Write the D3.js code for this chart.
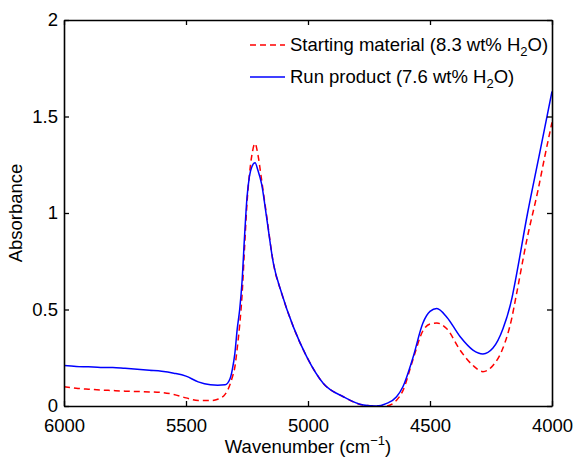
<!DOCTYPE html>
<html>
<head>
<meta charset="utf-8">
<script src="https://cdn.jsdelivr.net/npm/d3@7"></script>
<style>
  body { margin: 0; background: #fff; }
  svg text { font-family: "Liberation Sans", Arial, sans-serif; fill: #000; }
</style>
</head>
<body>
<div id="chart"></div>
<script>
// wavenumbers (cm-1) shared by both spectra
const wavenumbers = [6000, 5950, 5900, 5850, 5800, 5750, 5700, 5650, 5600, 5550, 5500, 5450, 5400, 5370, 5340, 5320, 5310, 5300, 5290, 5280, 5270, 5260, 5250, 5240, 5230, 5217, 5205, 5190, 5170, 5142, 5108, 5060, 5005, 4937, 4855, 4773, 4720, 4680, 4637, 4611, 4570, 4529, 4500, 4472, 4431, 4377, 4324, 4283, 4242, 4201, 4164, 4150, 4100, 4057, 4030, 4000];

const runProduct = [0.21, 0.205, 0.203, 0.2, 0.2, 0.195, 0.19, 0.185, 0.18, 0.17, 0.155, 0.125, 0.11, 0.108, 0.11, 0.14, 0.19, 0.27, 0.4, 0.5, 0.65, 0.88, 1.08, 1.19, 1.24, 1.26, 1.22, 1.15, 0.98, 0.74, 0.584, 0.41, 0.255, 0.117, 0.048, 0.005, 0.0, 0.012, 0.048, 0.1, 0.25, 0.43, 0.49, 0.505, 0.46, 0.36, 0.29, 0.27, 0.3, 0.4, 0.56, 0.65, 1.0, 1.27, 1.44, 1.63];

const startingMaterial = [0.1, 0.092, 0.087, 0.083, 0.08, 0.077, 0.075, 0.073, 0.07, 0.06, 0.042, 0.028, 0.028, 0.035, 0.06, 0.11, 0.15, 0.2, 0.3, 0.42, 0.58, 0.82, 1.05, 1.2, 1.3, 1.36, 1.3, 1.17, 0.99, 0.74, 0.584, 0.41, 0.255, 0.117, 0.048, 0.005, 0.0, 0.0, 0.03, 0.08, 0.24, 0.39, 0.425, 0.43, 0.4, 0.29, 0.21, 0.178, 0.21, 0.3, 0.46, 0.55, 0.88, 1.12, 1.29, 1.47];

const xTicks = [6000, 5500, 5000, 4500, 4000];
const yTicks = [0, 0.5, 1, 1.5, 2];

const width = 575, height = 459;
const margin = { top: 20, right: 23, bottom: 53, left: 64 };

const svg = d3.select('#chart').append('svg')
    .attr('width', width)
    .attr('height', height);

const x = d3.scaleLinear().domain([6000, 4000]).range([margin.left, width - margin.right]);
const y = d3.scaleLinear().domain([0, 2]).range([height - margin.bottom, margin.top]);

// series
const series = [
    { label: 'Starting material (8.3 wt% H', values: startingMaterial, color: '#ff0000', dash: '6,4' },
    { label: 'Run product (7.6 wt% H', values: runProduct, color: '#0000ff', dash: null }
];

const line = d3.line()
    .x(d => x(d[0]))
    .y(d => y(d[1]))
    .curve(d3.curveMonotoneX);

svg.append('clipPath').attr('id', 'clip')
    .append('rect')
    .attr('x', margin.left).attr('y', margin.top)
    .attr('width', x.range()[1] - margin.left)
    .attr('height', y.range()[0] - margin.top);

const plot = svg.append('g').attr('clip-path', 'url(#clip)');
series.forEach(s => {
    plot.append('path')
        .datum(wavenumbers.map((w, i) => [w, s.values[i]]))
        .attr('fill', 'none')
        .attr('stroke', s.color)
        .attr('stroke-width', 1.5)
        .attr('stroke-dasharray', s.dash)
        .attr('d', line);
});

// axes, MATLAB style box with ticks pointing inward on all sides
const tickLen = 5;
const fontSize = 18.5;
const bottomAxis = svg.append('g')
    .attr('transform', 'translate(0,' + y(0) + ')')
    .call(d3.axisBottom(x).tickValues(xTicks).tickSizeInner(-tickLen).tickSizeOuter(0).tickPadding(13).tickFormat(d3.format('d')));
const topAxis = svg.append('g')
    .attr('transform', 'translate(0,' + y(2) + ')')
    .call(d3.axisTop(x).tickValues(xTicks).tickSizeInner(-tickLen).tickSizeOuter(0).tickFormat(''));
const leftAxis = svg.append('g')
    .attr('transform', 'translate(' + x(6000) + ',0)')
    .call(d3.axisLeft(y).tickValues(yTicks).tickSizeInner(-tickLen).tickSizeOuter(0).tickPadding(6).tickFormat(d => d));
const rightAxis = svg.append('g')
    .attr('transform', 'translate(' + x(4000) + ',0)')
    .call(d3.axisRight(y).tickValues(yTicks).tickSizeInner(-tickLen).tickSizeOuter(0).tickFormat(''));

[bottomAxis, topAxis, leftAxis, rightAxis].forEach(g => {
    g.select('.domain').attr('stroke', '#000').attr('stroke-width', 1.6);
    g.selectAll('.tick line').attr('stroke', '#000').attr('stroke-width', 1.3);
    g.selectAll('.tick text')
        .style('font-family', '"Liberation Sans", Arial, sans-serif')
        .style('font-size', fontSize + 'px')
        .attr('fill', '#000');
});

// axis titles
const xTitle = svg.append('text')
    .attr('x', (x.range()[0] + x.range()[1]) / 2)
    .attr('y', 453)
    .attr('text-anchor', 'middle')
    .style('font-size', fontSize + 'px')
    .text('Wavenumber (cm');
xTitle.append('tspan').attr('dy', -8).style('font-size', '13px').text('\u22121');
xTitle.append('tspan').attr('dy', 8).text(')');

svg.append('text')
    .attr('transform', 'translate(22,' + (margin.top + y.range()[0]) / 2 + ') rotate(-90)')
    .attr('text-anchor', 'middle')
    .style('font-size', fontSize + 'px')
    .text('Absorbance');

// legend
const legend = svg.append('g');
series.forEach((s, i) => {
    const ly = 45 + i * 32;
    legend.append('line')
        .attr('x1', 250).attr('x2', 285)
        .attr('y1', ly).attr('y2', ly)
        .attr('stroke', s.color)
        .attr('stroke-width', 1.5)
        .attr('stroke-dasharray', s.dash);
    const t = legend.append('text')
        .attr('x', 290)
        .attr('y', ly + 6)
        .style('font-size', fontSize + 'px')
        .text(s.label);
    t.append('tspan').attr('dy', 5).style('font-size', '13px').text('2');
    t.append('tspan').attr('dy', -5).text('O)');
});
</script>
</body>
</html>
